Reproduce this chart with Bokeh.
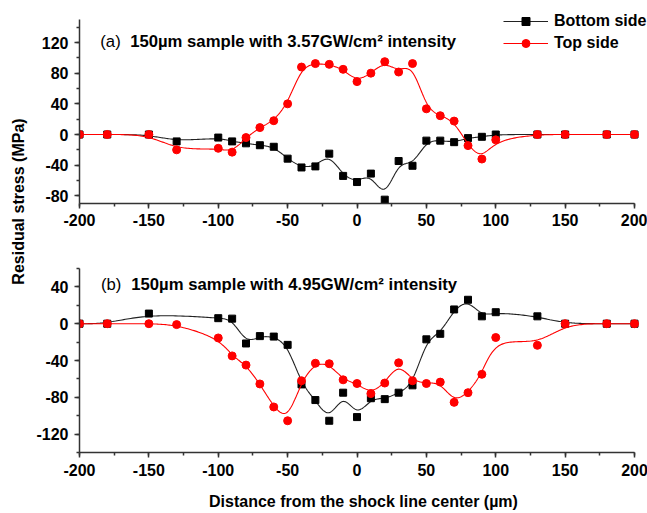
import numpy as np
from math import pi
from bokeh.plotting import figure
from bokeh.models import (Range1d, SingleIntervalTicker, Legend, LegendItem, Label,
                          CustomJSTickFormatter)
from bokeh.layouts import row, column
from bokeh.embed import file_html
from bokeh.resources import INLINE

# ---------------- data ----------------
x_a = [-200, -180, -150, -130, -100, -90, -80, -70, -60, -50, -40, -30, -20, -10,
       0, 10, 20, 30, 40, 50, 60, 70, 80, 90, 100, 130, 150, 180, 200]
bottom_a = [0, 0, 0, -9, -4, -9, -11.5, -14, -16, -31.5, -43, -41.6, -25, -54,
            -62, -51, -85, -34.6, -40.8, -8, -8, -10, -4.7, -3, 0, 0, 0, 0, 0]
top_a = [0, 0, 0, -20, -18, -23, -4, 9, 18, 40, 88, 92.5, 91.5, 85,
         69, 80, 95, 81.5, 92.5, 33.5, 24.5, 17.5, -14.5, -32, -7, 0, 0, 0, 0]

x_b_bottom = [-200, -180, -150, -100, -90, -80, -70, -60, -50, -40, -30, -20, -10,
              0, 10, 20, 30, 40, 50, 60, 70, 80, 90, 100, 130, 150, 180, 200]
bottom_b = [0, 0, 11, 6, 5.5, -21.5, -13.5, -14, -23, -66, -83, -105.5, -75,
            -101.5, -81, -82, -75, -67, -17, -11, 15.5, 26, 8, 12.5, 8, 0, 0, 0]
x_b_top = [-200, -180, -150, -130, -100, -90, -80, -70, -60, -50, -40, -30, -20, -10,
           0, 10, 20, 30, 40, 50, 60, 70, 80, 90, 100, 130, 150, 180, 200]
top_b = [0, 0, 0, -1, -15.5, -35, -45, -65.5, -90.5, -105.5, -62, -43, -43.5, -61,
         -65, -76, -64.5, -42.5, -62, -65, -63.5, -85.5, -75, -55, -15, -23.5, 0, 0, 0]

labels = ["Bottom side", "Top side"]
title_a = "150\u00b5m sample with 3.57GW/cm\u00b2 intensity"
title_b = "150\u00b5m sample with 4.95GW/cm\u00b2 intensity"
xlabel = "Distance from the shock line center (\u00b5m)"
ylabel = "Residual stress (MPa)"

X_AXIS = (-200, 200)
Y_AXIS_A = (-90, 150)
Y_AXIS_B = (-140, 60)

FONT = "Liberation Sans"
BLACK = "#222222"
RED = "#ff0000"

PX_X = 555 / 400.0          # pixels per micron on the x axis


def bspline(xs, ys, n=24):
    """Uniform cubic B-spline using the data points as control points (clamped)."""
    P = np.column_stack([xs, ys]).astype(float)
    Q = np.vstack([P[0], P[0], P, P[-1], P[-1]])
    t = np.linspace(0, 1, n, endpoint=False)[:, None]
    b0 = (1 - t) ** 3 / 6
    b1 = (3 * t ** 3 - 6 * t ** 2 + 4) / 6
    b2 = (-3 * t ** 3 + 3 * t ** 2 + 3 * t + 1) / 6
    b3 = t ** 3 / 6
    pts = []
    for j in range(len(Q) - 3):
        pts.append(b0 * Q[j] + b1 * Q[j + 1] + b2 * Q[j + 2] + b3 * Q[j + 3])
    pts.append(P[-1][None, :])
    pts = np.vstack(pts)
    return pts[:, 0], pts[:, 1]


def make_panel(yaxis, extra_top_px, border_top, border_bottom, xlab):
    fw = 568
    px_y = 184.0 / (yaxis[1] - yaxis[0])
    fh = 184 + extra_top_px
    x_end = X_AXIS[0] + fw / PX_X
    y_end = yaxis[0] + fh / px_y
    p = figure(frame_width=fw, frame_height=fh,
               x_range=Range1d(X_AXIS[0], x_end), y_range=Range1d(yaxis[0], y_end),
               min_border_left=44, min_border_right=2,
               min_border_top=border_top, min_border_bottom=border_bottom,
               toolbar_location=None, output_backend="svg")
    p.xaxis.ticker = SingleIntervalTicker(interval=50, num_minor_ticks=2)
    p.yaxis.ticker = SingleIntervalTicker(interval=40, num_minor_ticks=2)
    p.xaxis.bounds = X_AXIS
    p.yaxis.bounds = yaxis
    for ax in p.axis:
        ax.formatter = CustomJSTickFormatter(code="return String(tick);")
        ax.major_tick_out = 5
        ax.major_tick_in = 0
        ax.minor_tick_out = 3
        ax.minor_tick_in = 0
        ax.axis_line_width = 1.5
        ax.axis_line_color = "#333333"
        ax.major_tick_line_color = "#333333"
        ax.minor_tick_line_color = "#333333"
        ax.major_tick_line_width = 1.5
        ax.minor_tick_line_width = 1.5
        ax.major_label_text_font = FONT
        ax.major_label_text_font_style = "bold"
        ax.major_label_text_font_size = "16px"
        ax.major_label_text_color = "black"
    p.yaxis.major_label_standoff = 6
    p.xaxis.major_label_standoff = 5
    if xlab:
        p.xaxis.major_label_standoff = 6
        p.xaxis.axis_label = xlab
        p.xaxis.axis_label_text_font = FONT
        p.xaxis.axis_label_text_font_style = "bold"
        p.xaxis.axis_label_text_font_size = "16px"
        p.xaxis.axis_label_text_color = "black"
        p.xaxis.axis_label_standoff = 14
    p.xgrid.visible = False
    p.ygrid.visible = False
    p.outline_line_color = None
    p.background_fill_color = "white"
    p.border_fill_color = "white"
    return p


def add_series(p, xb, yb, xt, yt):
    sx, sy = bspline(xb, yb)
    lb = p.line(sx, sy, line_color=BLACK, line_width=1.1)
    sb = p.scatter(xb, yb, marker="square", size=7, fill_color="black", line_color="black")
    sx, sy = bspline(xt, yt)
    lr = p.line(sx, sy, line_color=RED, line_width=1.1)
    cr = p.scatter(xt, yt, marker="circle", size=8, fill_color=RED, line_color=RED)
    return lb, sb, lr, cr


def add_title(p, tag, text, x0, x1, y):
    p.add_layout(Label(x=x0, y=y, text=tag, text_font=FONT, text_font_size="16.7px",
                       text_color="black", text_align="left", text_baseline="middle"))
    p.add_layout(Label(x=x1, y=y, text=text, text_font=FONT, text_font_style="bold",
                       text_font_size="16.7px", text_color="black",
                       text_align="left", text_baseline="middle"))


# ---------------- panel (a) ----------------
pa = make_panel(Y_AXIS_A, 15, 4, 32, None)
lb, sb, lr, cr = add_series(pa, x_a, bottom_a, x_a, top_a)
add_title(pa, "(a)", title_a, -185, -163.5, 121.6)

legend = Legend(items=[LegendItem(label=labels[0], renderers=[lb, sb]),
                       LegendItem(label=labels[1], renderers=[lr, cr])],
                location=(424, 150), glyph_width=45, glyph_height=20,
                label_height=20, label_standoff=6, spacing=2, padding=0, margin=0,
                label_text_font=FONT, label_text_font_style="bold",
                label_text_font_size="16px", label_text_color="black",
                border_line_color=None, background_fill_alpha=0)
pa.add_layout(legend)

# ---------------- panel (b) ----------------
pb = make_panel(Y_AXIS_B, 0, 33, 61, xlabel)
add_series(pb, x_b_bottom, bottom_b, x_b_top, top_b)
add_title(pb, "(b)", title_b, -184.5, -162.7, 42.3)

# ---------------- shared y label ----------------
yl = figure(width=33, height=513, x_range=Range1d(0, 33), y_range=Range1d(0, 513),
            x_axis_type=None, y_axis_type=None, min_border=0,
            toolbar_location=None, output_backend="svg")
yl.xgrid.visible = False
yl.ygrid.visible = False
yl.outline_line_color = None
yl.add_layout(Label(x=18, y=312, text=ylabel, angle=pi / 2, text_font=FONT,
                    text_font_style="bold", text_font_size="16px", text_color="black",
                    text_align="center", text_baseline="middle"))

layout = row(yl, column(pa, pb))
open("out.html", "w").write(file_html(layout, INLINE))
